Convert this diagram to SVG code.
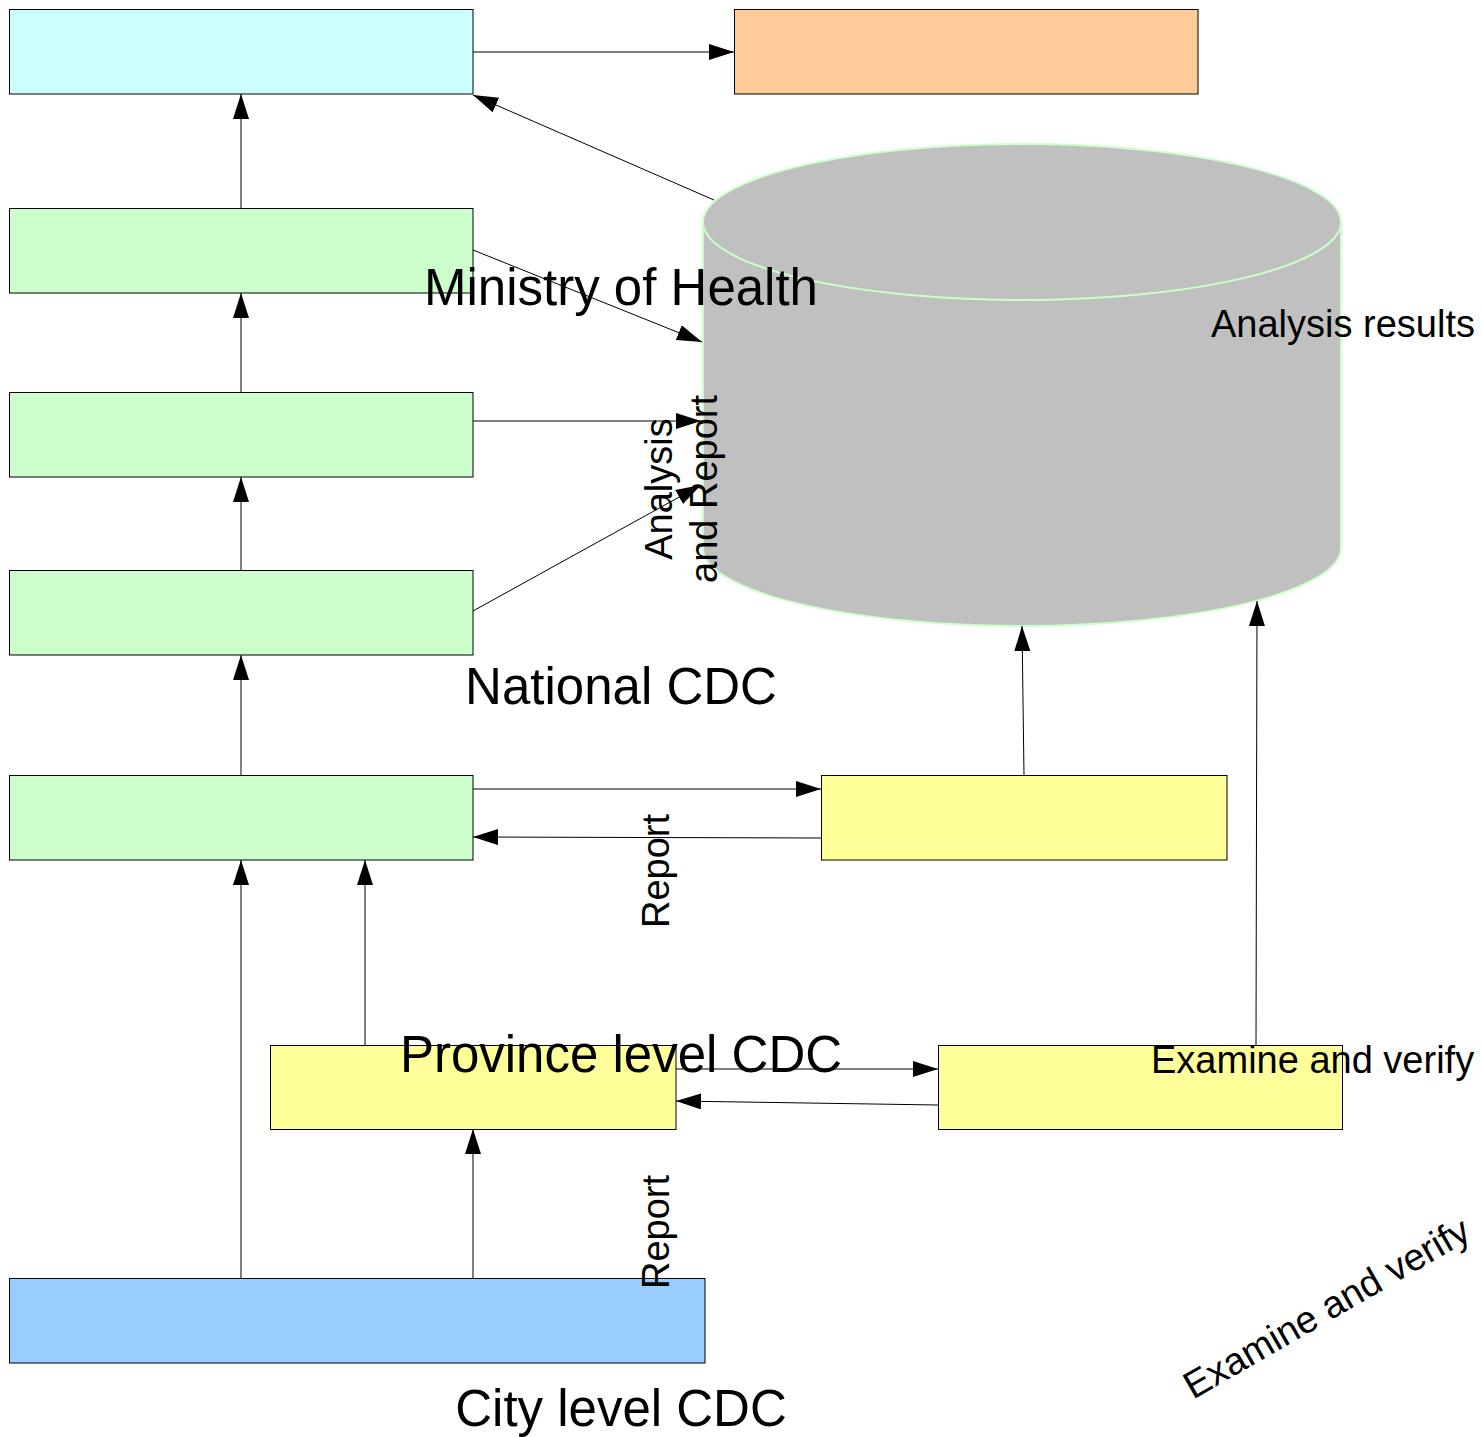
<svg xmlns="http://www.w3.org/2000/svg" width="1483" height="1437" viewBox="0 0 1483 1437">
<style>
.box{stroke:#000;stroke-width:1}
.cyan{fill:#CCFFFF}.orange{fill:#FFCC99}.green{fill:#CCFFCC}.yellow{fill:#FFFF99}.blue{fill:#99CCFF}
.con{fill:none;stroke:#000;stroke-width:1;marker-end:url(#ah)}
.big{font-family:"Liberation Sans",Arial,sans-serif;font-size:51px;fill:#000;text-anchor:middle}
.small{font-family:"Liberation Sans",Arial,sans-serif;font-size:38px;fill:#000}
</style>
<defs>
<marker id="ah" markerUnits="userSpaceOnUse" markerWidth="26" markerHeight="18" refX="25" refY="8" orient="auto">
<path d="M0,0 L25,8 L0,16 Z" fill="#000"/>
</marker>
</defs>
<rect width="1483" height="1437" fill="#fff"/>
<g id="node-cyan"><rect class="box cyan" x="9.5" y="9.5" width="463.5" height="84.5"/></g>
<g id="node-orange"><rect class="box orange" x="734.5" y="9.5" width="463.5" height="84.5"/></g>
<g id="node-green1"><rect class="box green" x="9.5" y="208.5" width="463.5" height="84.5"/></g>
<g id="node-green2"><rect class="box green" x="9.5" y="392.5" width="463.5" height="84.5"/></g>
<g id="node-green3"><rect class="box green" x="9.5" y="570.5" width="463.5" height="84.5"/></g>
<g id="node-green4"><rect class="box green" x="9.5" y="775.5" width="463.5" height="84.5"/></g>
<g id="node-yellow1"><rect class="box yellow" x="821.5" y="775.5" width="405.5" height="84.5"/></g>
<g id="node-province"><rect class="box yellow" x="270.5" y="1045.5" width="405.5" height="84"/></g>
<g id="node-yellow3"><rect class="box yellow" x="938.5" y="1045.5" width="404" height="84"/></g>
<g id="node-blue"><rect class="box blue" x="9.5" y="1278.5" width="695.5" height="84.5"/></g>
<g id="node-cylinder">
<path d="M703,222 A319,78 0 0,1 1341,222 L1341,548 A319,78 0 0,1 703,548 Z" fill="#C0C0C0" stroke="#CCFFCC" stroke-width="2"/>
<path d="M703,222 A319,78 0 0,0 1341,222" fill="none" stroke="#CCFFCC" stroke-width="2"/>
</g>
<g id="connectors">
<line class="con" x1="473" y1="52" x2="734" y2="52"/>
<line class="con" x1="714" y1="200" x2="473" y2="95"/>
<line class="con" x1="473" y1="250" x2="702" y2="342"/>
<line class="con" x1="473" y1="421" x2="701" y2="421"/>
<line class="con" x1="473" y1="611" x2="701" y2="485"/>
<line class="con" x1="241" y1="208" x2="241" y2="94"/>
<line class="con" x1="241" y1="392" x2="241" y2="293"/>
<line class="con" x1="241" y1="570" x2="241" y2="477"/>
<line class="con" x1="241" y1="775" x2="241" y2="655"/>
<line class="con" x1="241" y1="1278" x2="241" y2="860"/>
<line class="con" x1="365" y1="1045" x2="365" y2="860"/>
<line class="con" x1="473" y1="1278" x2="473" y2="1129"/>
<line class="con" x1="473" y1="789" x2="821" y2="789"/>
<line class="con" x1="821" y1="838" x2="473" y2="837"/>
<line class="con" x1="1024" y1="775" x2="1022" y2="626"/>
<line class="con" x1="1256" y1="1045" x2="1257" y2="601"/>
<line class="con" x1="676" y1="1069" x2="938" y2="1069"/>
<line class="con" x1="938" y1="1105" x2="676" y2="1101"/>
</g>
<g id="labels">
<text class="big" x="621" y="305">Ministry of Health</text>
<text class="big" x="621" y="704">National CDC</text>
<text class="big" x="621" y="1072">Province level CDC</text>
<text class="big" x="621" y="1426">City level CDC</text>
<text class="small" x="1211" y="337">Analysis results</text>
<text class="small" x="1151" y="1073">Examine and verify</text>
<text class="small" text-anchor="middle" transform="translate(1333,1319) rotate(-30)">Examine and verify</text>
<text class="small" text-anchor="middle" transform="translate(669,871) rotate(-90)">Report</text>
<text class="small" text-anchor="middle" transform="translate(669,1232) rotate(-90)">Report</text>
<text class="small" text-anchor="middle" transform="translate(672,489) rotate(-90)"><tspan x="0" y="0">Analysis</tspan><tspan x="0" y="45">and Report</tspan></text>
</g>
</svg>
